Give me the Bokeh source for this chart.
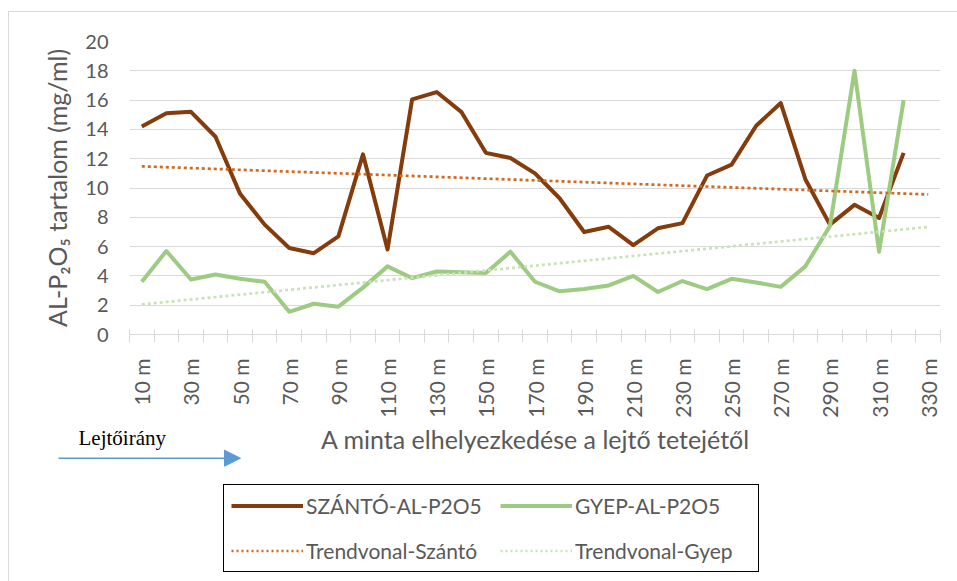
from bokeh.plotting import figure
from bokeh.models import (FixedTicker, Legend, LegendItem, Label, Arrow, NormalHead, Range1d)
from bokeh.layouts import column
from bokeh.embed import file_html
from bokeh.resources import INLINE
import math

# ---- data ----
categories = ["10 m", "20 m", "30 m", "40 m", "50 m", "60 m", "70 m", "80 m", "90 m", "100 m",
              "110 m", "120 m", "130 m", "140 m", "150 m", "160 m", "170 m", "180 m", "190 m", "200 m",
              "210 m", "220 m", "230 m", "240 m", "250 m", "260 m", "270 m", "280 m", "290 m", "300 m",
              "310 m", "320 m", "330 m"]
szanto = [14.2, 15.1, 15.2, 13.5, 9.6, 7.5, 5.9, 5.55, 6.7, 12.3,
          5.8, 16.05, 16.55, 15.2, 12.4, 12.05, 11.0, 9.3, 7.0, 7.35,
          6.1, 7.25, 7.6, 10.85, 11.6, 14.25, 15.8, 10.6, 7.5, 8.85,
          7.95, 12.4]
gyep = [3.6, 5.7, 3.75, 4.1, 3.8, 3.6, 1.55, 2.1, 1.9, 3.2,
        4.65, 3.85, 4.3, 4.25, 4.2, 5.65, 3.6, 2.95, 3.1, 3.35,
        4.0, 2.9, 3.65, 3.1, 3.8, 3.55, 3.25, 4.65, 7.4, 18.0,
        5.65, 16.0]
trend_idx = [0, 32]
trend_szanto = [11.48, 9.56]
trend_gyep = [2.06, 7.34]
y_ticks = [0, 2, 4, 6, 8, 10, 12, 14, 16, 18, 20]
series_labels = ["SZÁNTÓ-AL-P2O5", "Trendvonal-Szántó", "GYEP-AL-P2O5", "Trendvonal-Gyep"]

FONT = "Lato"
GRAY = "#595959"
GRID = "#d9d9d9"
C_S, C_G, C_TS, C_TG = "#843C0C", "#9DCB82", "#D2691E", "#C9E2B8"
NAN = float("nan")

W = 948

# ---- main chart ----
p = figure(width=W, height=408, output_backend="svg", toolbar_location=None,
           x_range=Range1d(-0.5, len(categories) - 0.5), y_range=Range1d(0, 20),
           min_border_left=120, min_border_right=17, min_border_top=29, min_border_bottom=84)
p.frame_align = False
p.outline_line_color = None

p.line(list(range(len(szanto))), szanto, line_color=C_S, line_width=4, line_join="round")
p.line(list(range(len(gyep))), gyep, line_color=C_G, line_width=4, line_join="round")
p.line(trend_idx, trend_szanto, line_color=C_TS, line_width=2.7, line_dash="3 3")
p.line(trend_idx, trend_gyep, line_color=C_TG, line_width=2.7, line_dash="3 3")

label_ticks = list(range(0, len(categories), 2))
boundaries = [i - 0.5 for i in range(len(categories) + 1)]
p.xaxis.ticker = FixedTicker(ticks=label_ticks, minor_ticks=boundaries)
p.xaxis.major_label_overrides = {i: categories[i] for i in label_ticks}
p.xaxis.major_label_orientation = math.pi / 2
p.xaxis.major_tick_in = 0
p.xaxis.major_tick_out = 0
p.xaxis.minor_tick_in = 5
p.xaxis.minor_tick_out = 8
p.xaxis.minor_tick_line_color = GRID
p.xaxis.axis_line_color = GRID
p.xaxis.major_label_standoff = 16
p.xaxis.major_label_text_font = FONT
p.xaxis.major_label_text_font_size = "21px"
p.xaxis.major_label_text_color = GRAY

p.yaxis.ticker = FixedTicker(ticks=y_ticks)
p.yaxis.major_tick_in = 0
p.yaxis.major_tick_out = 0
p.yaxis.minor_tick_line_color = None
p.yaxis.axis_line_color = None
p.yaxis.major_label_standoff = 21
p.yaxis.major_label_text_font = FONT
p.yaxis.major_label_text_font_size = "20px"
p.yaxis.major_label_text_color = GRAY
p.yaxis.axis_label = "AL-P\u2082O\u2085 tartalom (mg/ml)"
p.yaxis.axis_label_text_font = FONT
p.yaxis.axis_label_text_font_size = "25px"
p.yaxis.axis_label_text_font_style = "normal"
p.yaxis.axis_label_text_color = GRAY
p.yaxis.axis_label_standoff = 10

p.xgrid.grid_line_color = None
p.ygrid.grid_line_color = GRID
p.ygrid.grid_line_width = 1

# ---- lower panel: axis title, direction note, legend ----
H2 = 161
q = figure(width=W, height=H2, output_backend="svg", toolbar_location=None,
           x_range=Range1d(0, W), y_range=Range1d(0, H2),
           x_axis_location=None, y_axis_location=None,
           min_border=0)
q.frame_align = False
q.outline_line_color = None
q.grid.grid_line_color = None

q.add_layout(Label(x=526, y=143, x_units="screen", y_units="screen",
                   text="A minta elhelyezkedése a lejtő tetejétől",
                   text_font=FONT, text_font_size="25px", text_color=GRAY,
                   text_align="center", text_baseline="alphabetic"))
q.add_layout(Label(x=69, y=143.5, x_units="screen", y_units="screen", text="Lejtőirány",
                   text_font="Liberation Serif", text_font_size="21px", text_color="black",
                   text_baseline="alphabetic"))
q.add_layout(Arrow(x_start=49, y_start=123.3, x_end=231, y_end=123.3,
                   start_units="screen", end_units="screen",
                   line_color="#5B9BD5", line_width=1.5,
                   end=NormalHead(size=16, fill_color="#5B9BD5", line_color="#5B9BD5")))

# legend-only renderers (no visible data)
q_s = q.line([NAN], [NAN], line_color=C_S, line_width=4)
q_ts = q.line([NAN], [NAN], line_color=C_TS, line_width=2.5, line_dash="2 3")
q_g = q.line([NAN], [NAN], line_color=C_G, line_width=4)
q_tg = q.line([NAN], [NAN], line_color=C_TG, line_width=2.5, line_dash="2 3")

legend = Legend(items=[LegendItem(label=series_labels[0], renderers=[q_s]),
                       LegendItem(label=series_labels[1], renderers=[q_ts]),
                       LegendItem(label=series_labels[2], renderers=[q_g]),
                       LegendItem(label=series_labels[3], renderers=[q_tg])],
                location=(214, 9), orientation="vertical", ncols=2,
                border_line_color="black", border_line_width=1, border_line_alpha=1,
                background_fill_color="white", background_fill_alpha=1,
                label_text_font=FONT, label_text_font_size="21px", label_text_color=GRAY,
                glyph_width=72, glyph_height=27, label_standoff=3, label_width=176,
                spacing=18, padding=7, margin=0)
q.add_layout(legend)

layout = column(p, q, spacing=0, margin=(11, 0, 0, 8),
                styles={"border-top": "1px solid #d9d9d9", "border-left": "1px solid #d9d9d9"})

open("out.html", "w").write(file_html(layout, INLINE))
